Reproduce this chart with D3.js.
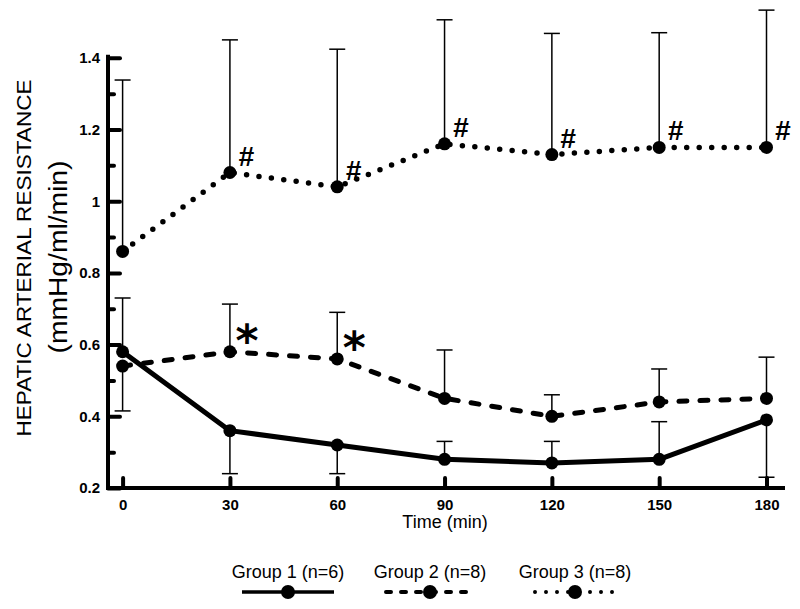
<!DOCTYPE html>
<html>
<head>
<meta charset="utf-8">
<script src="https://cdn.jsdelivr.net/npm/d3@7"></script>
<style>
  body { margin: 0; background: #fff; }
  text { font-family: "Liberation Sans", Arial, sans-serif; fill: #000; }
</style>
</head>
<body>
<svg id="chart" width="800" height="609"></svg>
<script>
// sample times (min)
const times = [0, 30, 60, 90, 120, 150, 180];

// group means
const group1 = [0.58, 0.36, 0.32, 0.28, 0.27, 0.28, 0.39];
const group2 = [0.54, 0.58, 0.56, 0.45, 0.40, 0.44, 0.45];
const group3 = [0.86, 1.08, 1.04, 1.16, 1.13, 1.15, 1.15];

// where each one-sided error bar ends
const group1ErrEnd = [0.73, 0.24, 0.24, 0.33, 0.33, 0.385, 0.23];
const group2ErrEnd = [0.415, 0.713, 0.69, 0.585, 0.46, 0.532, 0.565];
const group3ErrEnd = [1.338, 1.45, 1.424, 1.506, 1.468, 1.47, 1.533];

// significance marks
const starTimes = [30, 60];
const hashTimes = [30, 60, 90, 120, 150, 180];

const yTicks = [0.2, 0.4, 0.6, 0.8, 1, 1.2, 1.4];
const yMinorTicks = [0.3, 0.5, 0.7, 0.9, 1.1, 1.3];

const groupNames = ['Group 1 (n=6)', 'Group 2 (n=8)', 'Group 3 (n=8)'];

const svg = d3.select('#chart');

const x = d3.scaleLinear().domain([0, 180]).range([122.6, 766.5]);
const y = d3.scaleLinear().domain([0.2, 1.4]).range([488, 57.8]);

// styles per group
const styles = [
  {dash: null, width: 5},
  {dash: '8,13', width: 5},
  {dash: '0,12.5', width: 5.5}
];

// y axis (ticks point inward)
const yAxis = svg.append('g')
  .attr('transform', 'translate(108,0)')
  .call(d3.axisLeft(y).tickValues(yTicks).tickSizeInner(-12).tickSizeOuter(0).tickPadding(8)
    .tickFormat(d => d === 1 ? '1' : d3.format('.1f')(d)));
yAxis.select('.domain').attr('stroke-width', 4).attr('d', 'M0,' + (y(1.4) - 3) + 'V' + (y(0.2) + 2));
yAxis.selectAll('.tick line').attr('stroke-width', 4).attr('stroke-linecap', 'round');
yAxis.selectAll('.tick text').style('font-size', '15px').style('font-weight', 'bold')
  .attr('fill', '#000');

const yMinor = svg.append('g')
  .attr('transform', 'translate(108,0)')
  .call(d3.axisLeft(y).tickValues(yMinorTicks).tickSizeInner(-6).tickSizeOuter(0).tickFormat(''));
yMinor.select('.domain').remove();
yMinor.selectAll('.tick line').attr('stroke-width', 4).attr('stroke-linecap', 'round');

// x axis (ticks point upward)
svg.append('line')
  .attr('x1', 106).attr('x2', 785)
  .attr('y1', y(0.2)).attr('y2', y(0.2))
  .attr('stroke', '#000').attr('stroke-width', 4);

const xAxis = svg.append('g')
  .attr('transform', 'translate(0,' + y(0.2) + ')')
  .call(d3.axisBottom(x).tickValues(times).tickSizeInner(-10).tickSizeOuter(0).tickPadding(11));
xAxis.select('.domain').remove();
xAxis.selectAll('.tick line').attr('stroke-width', 4).attr('stroke-linecap', 'round');
xAxis.selectAll('.tick text').style('font-size', '15px').style('font-weight', 'bold')
  .attr('fill', '#000');

// axis titles
svg.append('text')
  .attr('x', 445).attr('y', 528)
  .attr('text-anchor', 'middle')
  .style('font-size', '18px')
  .text('Time  (min)');

svg.append('text')
  .attr('transform', 'translate(31,258) rotate(-90)')
  .attr('text-anchor', 'middle')
  .attr('textLength', 357).attr('lengthAdjust', 'spacingAndGlyphs')
  .style('font-size', '21px')
  .text('HEPATIC ARTERIAL RESISTANCE');

svg.append('text')
  .attr('transform', 'translate(67,257) rotate(-90)')
  .attr('text-anchor', 'middle')
  .attr('textLength', 193).attr('lengthAdjust', 'spacingAndGlyphs')
  .style('font-size', '25px')
  .text('(mmHg/ml/min)');

// error bars
function errorBars(means, ends) {
  const g = svg.append('g');
  times.forEach((t, i) => {
    g.append('line')
      .attr('x1', x(t)).attr('x2', x(t))
      .attr('y1', y(means[i])).attr('y2', y(ends[i]))
      .attr('stroke', '#000').attr('stroke-width', 1.5);
    g.append('line')
      .attr('x1', x(t) - 8).attr('x2', x(t) + 8)
      .attr('y1', y(ends[i])).attr('y2', y(ends[i]))
      .attr('stroke', '#000').attr('stroke-width', 1.5);
  });
}
errorBars(group3, group3ErrEnd);
errorBars(group2, group2ErrEnd);
errorBars(group1, group1ErrEnd);

// lines and markers
const line = d3.line().x((d, i) => x(times[i])).y(d => y(d));

[group1, group2, group3].forEach((vals, k) => {
  svg.append('path')
    .datum(vals)
    .attr('d', line)
    .attr('fill', 'none')
    .attr('stroke', '#000')
    .attr('stroke-width', styles[k].width)
    .attr('stroke-linecap', 'round')
    .attr('stroke-linejoin', 'round')
    .attr('stroke-dasharray', styles[k].dash);

  svg.append('g').selectAll('circle')
    .data(vals)
    .join('circle')
    .attr('cx', (d, i) => x(times[i]))
    .attr('cy', d => y(d))
    .attr('r', 6.5)
    .attr('fill', '#000');
});

// significance marks
starTimes.forEach(t => {
  const i = times.indexOf(t);
  svg.append('text')
    .attr('x', x(t) + 17).attr('y', y(group2[i]) + 4)
    .attr('text-anchor', 'middle')
    .style('font-family', '"DejaVu Sans", sans-serif')
    .style('font-size', '44px')
    .style('font-weight', 'bold')
    .text('*');
});

hashTimes.forEach(t => {
  const i = times.indexOf(t);
  svg.append('text')
    .attr('x', x(t) + 16).attr('y', y(group3[i]) - 7)
    .attr('text-anchor', 'middle')
    .style('font-size', '28px')
    .style('font-weight', 'bold')
    .style('font-style', 'italic')
    .text('#');
});

// legend
const legendX = [288, 430, 575];
const legendHalf = [46, 44, 40];
groupNames.forEach((name, k) => {
  const g = svg.append('g');
  g.append('text')
    .attr('x', legendX[k]).attr('y', 578)
    .attr('text-anchor', 'middle')
    .style('font-size', '18px')
    .text(name);
  g.append('line')
    .attr('x1', legendX[k] - legendHalf[k]).attr('x2', legendX[k] + legendHalf[k])
    .attr('y1', 592).attr('y2', 592)
    .attr('stroke', '#000')
    .attr('stroke-width', k === 0 ? 3.5 : 4)
    .attr('stroke-linecap', k === 0 ? 'butt' : 'round')
    .attr('stroke-dasharray', k === 0 ? null : (k === 1 ? '5,10' : '0,11'));
  g.append('circle')
    .attr('cx', legendX[k]).attr('cy', 592).attr('r', 7)
    .attr('fill', '#000');
});
</script>
</body>
</html>
